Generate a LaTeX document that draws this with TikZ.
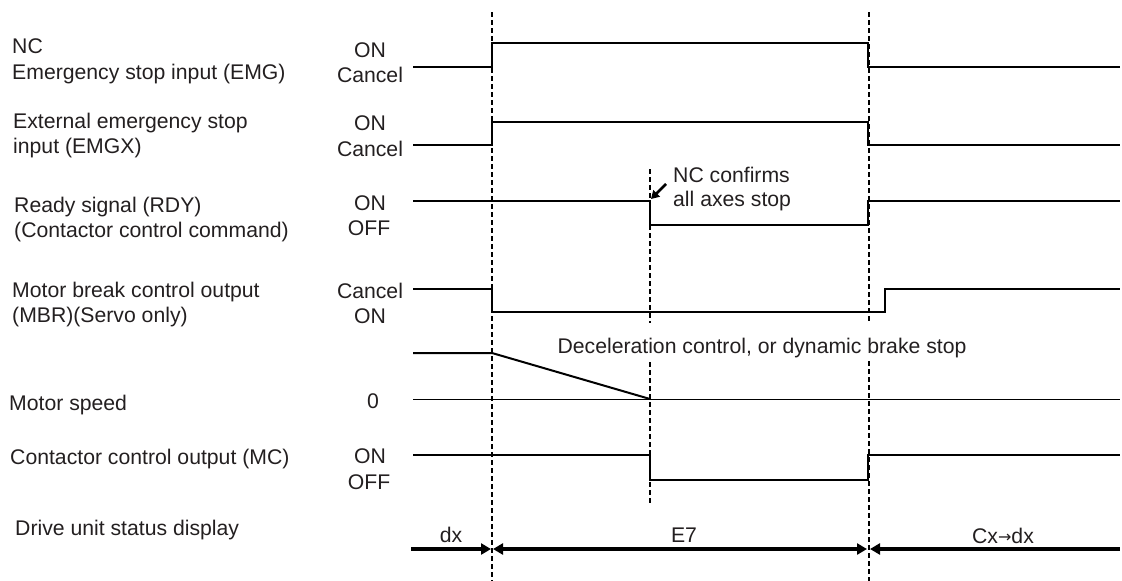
\documentclass[tikz,border=0pt]{standalone}
\usepackage{fontspec}
\setmainfont{Liberation Sans}
\newfontfamily\arrowfont{DejaVu Sans}
\usetikzlibrary{arrows.meta}
\definecolor{txt}{RGB}{35,31,32}
\begin{document}
\begin{tikzpicture}[x=1pt,y=-1pt,
  lbl/.style={anchor=base west,inner sep=0pt,text=txt,font=\fontsize{21.2}{25}\selectfont},
  stl/.style={anchor=base,inner sep=0pt,text=txt,font=\fontsize{21.2}{25}\selectfont},
  sig/.style={line width=2pt,line join=miter},
  zeroline/.style={line width=1pt},
  guide/.style={line width=1.4pt,dash pattern=on 5pt off 3pt},
  statusline/.style={line width=3.2pt},
  tip/.tip={Triangle[length=10pt,width=11pt]}]
\useasboundingbox (0,0) rectangle (1122,581);

% dashed guide lines
\coordinate (g1t) at (492,12);  \coordinate (g1b) at (492,581);
\coordinate (g2t) at (869,12);  \coordinate (g2m) at (869,323);
\coordinate (g2n) at (869,361); \coordinate (g2b) at (869,581);
\coordinate (g3t) at (650,169); \coordinate (g3m) at (650,323);
\coordinate (g3n) at (650,362); \coordinate (g3b) at (650,503);
\draw[guide] (g1t) -- (g1b);
\draw[guide] (g2t) -- (g2m);
\draw[guide] (g2n) -- (g2b);
\draw[guide] (g3t) -- (g3m);
\draw[guide] (g3n) -- (g3b);

% left labels
\node[lbl] (l1a) at (12,53) {NC};
\node[lbl] (l1b) at (12,79) {Emergency stop input (EMG)};
\node[lbl] (l2a) at (13,128) {External emergency stop};
\node[lbl] (l2b) at (13,153) {input (EMGX)};
\node[lbl] (l3a) at (14,212) {Ready signal (RDY)};
\node[lbl] (l3b) at (14,237) {(Contactor control command)};
\node[lbl] (l4a) at (12,297) {Motor break control output};
\node[lbl] (l4b) at (12,322) {(MBR)(Servo only)};
\node[lbl] (l5) at (9,410) {Motor speed};
\node[lbl] (l6) at (10,464) {Contactor control output (MC)};
\node[lbl] (l7) at (15,535) {Drive unit status display};

% state labels
\node[stl] (s1a) at (370,57) {ON};
\node[stl] (s1b) at (370,82) {Cancel};
\node[stl] (s2a) at (370,130) {ON};
\node[stl] (s2b) at (370,156) {Cancel};
\node[stl] (s3a) at (370,210) {ON};
\node[stl] (s3b) at (369,235) {OFF};
\node[stl] (s4a) at (370,298) {Cancel};
\node[stl] (s4b) at (370,323) {ON};
\node[stl] (s5) at (373,408) {0};
\node[stl] (s6a) at (370,463) {ON};
\node[stl] (s6b) at (369,489) {OFF};

% signals
\draw[sig] (413,67) -- (492,67) -- (492,43) -- (868,43) -- (868,67) -- (1120,67);
\draw[sig] (413,145) -- (492,145) -- (492,122) -- (868,122) -- (868,145) -- (1120,145);
\draw[sig] (413,201) -- (650,201) -- (650,225) -- (868,225) -- (868,201) -- (1120,201);
\draw[sig] (413,289) -- (492,289) -- (492,312) -- (885,312) -- (885,289) -- (1120,289);
\draw[sig] (413,353) -- (492,353) -- (650,399);
\draw[zeroline] (413,399) -- (1120,399);
\draw[sig] (413,455) -- (650,455) -- (650,480) -- (868,480) -- (868,455) -- (1120,455);

% annotations
\node[lbl] (nc1) at (673,182) {NC confirms};
\node[lbl] (nc2) at (673,206) {all axes stop};
\coordinate (arrS) at (666,184);
\coordinate (arrE) at (651,199);
\draw[line width=2.5pt,-{Triangle[length=8pt,width=9pt]}] (arrS) -- (arrE);
\node[stl] (dec) at (762,353) {Deceleration control, or dynamic brake stop};

% status display
\coordinate (st0) at (411,549);
\coordinate (st1) at (491,549);
\coordinate (st2) at (493,549);
\coordinate (st3) at (867,549);
\coordinate (st4) at (870,549);
\coordinate (st5) at (1120,549);
\draw[statusline,-tip] (st0) -- (st1);
\draw[statusline,tip-tip] (st2) -- (st3);
\draw[statusline,tip-] (st4) -- (st5);
\node[stl] (dx) at (451,542) {dx};
\node[stl] (e7) at (684,542) {E7};
\node[stl] (cx) at (1003,543) {Cx{\arrowfont\fontsize{16}{16}\selectfont\raisebox{1pt}{→}}dx};
\end{tikzpicture}
\end{document}
